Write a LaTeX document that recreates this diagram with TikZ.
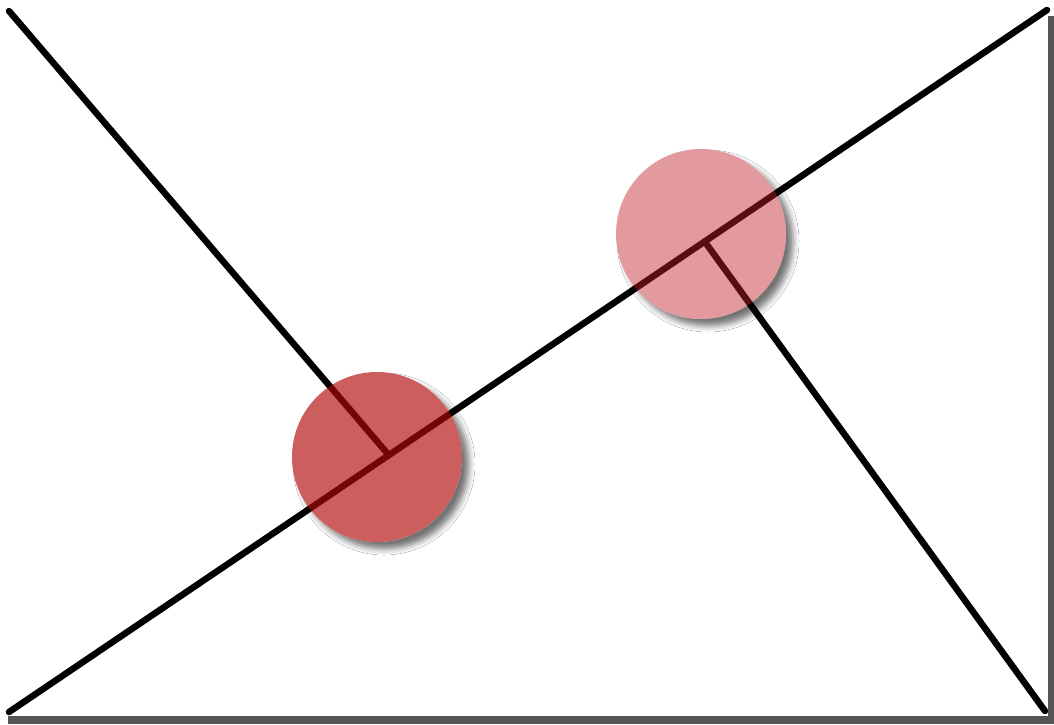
\documentclass[tikz,border=0pt]{standalone}
\usetikzlibrary{shadows.blur}
\definecolor{darkdot}{RGB}{178,9,9}
\definecolor{lightdot}{RGB}{195,33,40}
\definecolor{framegray}{RGB}{85,85,85}
\begin{document}
\begin{tikzpicture}[x=1pt,y=-1pt,
  ln/.style={line width=6.5pt, line cap=round},
  dotshadow/.style={blur shadow={shadow xshift=7pt, shadow yshift=-7pt, shadow blur radius=6pt, shadow opacity=55}},
  dot/.style={circle, minimum size=170pt, inner sep=0pt}]
\useasboundingbox (0,0) rectangle (1054,724);
\fill[white] (0,0) rectangle (1054,724);
% frame shadow
\fill[framegray] (1048,16) rectangle (1054,724);
\fill[framegray] (8,716) rectangle (1054,724);
% corner coordinates
\coordinate (tl) at (9,11);
\coordinate (bl) at (9,712);
\coordinate (tr) at (1047,10);
\coordinate (br) at (1045,711);
\coordinate (j1) at (387,453);
\coordinate (j2) at (705,242);
% circle shadows
\node[dot, dotshadow, fill=white] (s1) at (377,457) {};
\node[dot, dotshadow, fill=white] (s2) at (701,234) {};
% lines
\draw[ln] (tl) -- (j1);
\draw[ln] (bl) -- (tr);
\draw[ln] (j2) -- (br);
% circles
\node[dot, fill=darkdot, fill opacity=0.65] (c1) at (377,457) {};
\node[dot, fill=lightdot, fill opacity=0.45] (c2) at (701,234) {};
\end{tikzpicture}
\end{document}
